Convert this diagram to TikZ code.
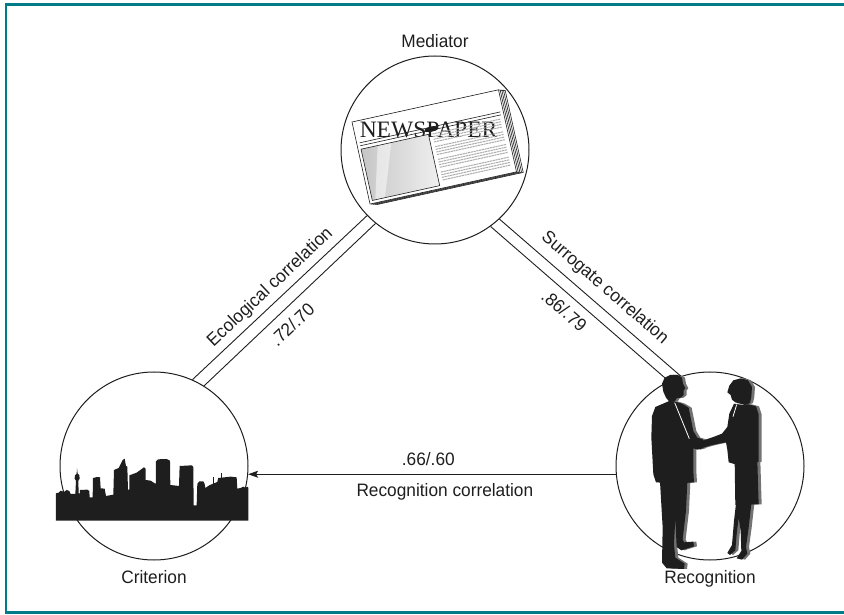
\documentclass[tikz,border=0pt]{standalone}
\usepackage{fontspec}
\setmainfont{Liberation Sans}[FakeStretch=0.96]
\newfontfamily\headfont{Liberation Serif}
\usetikzlibrary{positioning,arrows.meta}

\definecolor{frameteal}{RGB}{0,124,137}
\definecolor{ink}{RGB}{30,30,30}
\definecolor{figshadow}{RGB}{115,115,115}

\tikzset{
  disc/.style={circle, draw=ink, line width=1pt, minimum size=188pt, inner sep=0pt},
  caption/.style={text=ink, font=\fontsize{18}{20}\selectfont, inner sep=1pt},
  lbl/.style={text=ink, font=\fontsize{18}{20}\selectfont, inner sep=1pt},
  link/.style={draw=ink, line width=0.9pt},
  frameline/.style={draw=frameteal, line width=2.5pt},
  paper/.style={draw=ink, fill=white, line width=0.6pt},
  txtline/.style={draw=gray!65, line width=1pt, dash pattern=on 2.2pt off 0.6pt},
}

\begin{document}
\begin{tikzpicture}[x=1pt,y=1pt]
\useasboundingbox (0,0) rectangle (844,614);

%% frame
\draw[frameline] (844,609.5) -- (6,609.5) -- (6,1.5) -- (844,1.5);

%% circles
\node[disc] (med) at (435,464) {};    %% mediator
\node[disc] (crit) at (154,148) {};   %% criterion
\node[disc] (rec) at (710,148) {};    %% recognition

%% circle captions
\node[caption, above=7pt of med] (medcap) {Mediator};
\node[caption, below=9pt of crit] (critcap) {Criterion};
\node[caption, below=9pt of rec] (reccap) {Recognition};

%% newspaper
\begin{scope}[shift={(352,492)}, rotate=12.4]
  \foreach \k in {4,3,2,1}
    \draw[paper] (1.6*\k,-0.5*\k) rectangle ++(150,-84);
  \draw[paper] (0,0) rectangle (150,-84);
  \node[anchor=base west, inner sep=0pt, text=ink,
        font=\headfont\fontsize{23.5}{24}\selectfont] (title) at (4,-17) {NEWSPAPER};
  \draw[ink, line width=0.6pt] (3,-22) -- (147,-22);
  \draw[ink, line width=0.6pt] (3,-25) -- (147,-25);
  \fill[ink] (76,-24) ellipse (7 and 2.6);
  \shade[left color=gray!45, right color=gray!12] (3,-28.5) rectangle (72,-81);
  \fill[white, opacity=0.5] (20,-28.5) -- (34,-28.5) -- (16,-81) -- (6,-81) -- cycle;
  \draw[ink, line width=0.6pt] (3,-28.5) rectangle (72,-81);
  \foreach \p in {29,42,55,68}
    \foreach \i in {0,1,2,3}
      \draw[txtline] (76,-\p-2.7*\i) -- (146,-\p-2.7*\i);
\end{scope}

%% skyline
\begin{scope}[shift={(0,254)}, x=0.3333pt, y=-0.3333pt]
  \fill[ink] (168,482) -- (168,400) -- (176,398) -- (182,392) -- (192,396) -- (200,390)
    -- (208,393) -- (212,402) -- (226,402) -- (228,362) -- (224,356) -- (225,346)
    -- (230,341) -- (231,325) -- (233,341) -- (238,346) -- (239,356) -- (235,362)
    -- (236,400) -- (240,400) -- (240,390) -- (262,389) -- (268,393) -- (269,412)
    -- (278,412) -- (279,354) -- (292,351) -- (300,352) -- (302,385) -- (314,386)
    -- (318,408) -- (340,404) -- (342,330) -- (356,324) -- (368,300) -- (374,296)
    -- (378,318) -- (382,320) -- (384,390) -- (388,388) -- (388,346) -- (410,338)
    -- (432,322) -- (437,326) -- (437,360) -- (452,362) -- (464,370) -- (468,371)
    -- (468,304) -- (474,298) -- (500,297) -- (510,302) -- (511,375) -- (537,378)
    -- (539,318) -- (576,316) -- (580,322) -- (581,436) -- (590,436) -- (592,372)
    -- (598,364) -- (610,364) -- (614,372) -- (616,384) -- (628,376) -- (642,370)
    -- (652,366) -- (655,354) -- (692,350) -- (710,352) -- (712,386) -- (722,384)
    -- (730,380) -- (737,384) -- (741,380) -- (745,383) -- (745,482) -- cycle;
  \draw[ink, line width=0.4pt] (640,372) -- (640,352);
  \draw[ink, line width=0.4pt] (664,354) -- (664,340);
\end{scope}

%% handshake, grey copy first for the shadow
\begin{scope}[shift={(640,244)}, x=0.3333pt, y=-0.3333pt]
  \foreach \tone/\off in {figshadow/9,ink/0} {
    \begin{scope}[shift={(\off,3)}]
      %% man
      \fill[\tone] (70,62) -- (66,38) -- (74,20) -- (90,12) -- (112,12) -- (126,20) -- (129,38)
        -- (136,52) -- (131,58) -- (131,72) -- (122,80) -- (110,82) -- (104,92) -- (88,92)
        -- (78,80) -- cycle;
      \fill[\tone] (88,90) -- (106,92) -- (126,98) -- (146,110) -- (152,140) -- (160,180)
        -- (172,200) -- (186,204) -- (196,214) -- (188,232) -- (172,236) -- (160,232)
        -- (160,300) -- (162,334) -- (110,338) -- (48,334) -- (40,310) -- (34,200)
        -- (36,135) -- (46,108) -- cycle;
      \fill[\tone] (60,332) -- (142,332) -- (138,420) -- (128,505) -- (132,514) -- (160,512)
        -- (162,526) -- (124,538) -- (110,528) -- (106,440) -- (102,520) -- (106,560)
        -- (134,578) -- (132,594) -- (80,592) -- (66,575) -- (68,470) -- cycle;
      %% woman
      \fill[\tone] (262,64) -- (268,44) -- (280,28) -- (302,22) -- (324,28) -- (336,48)
        -- (334,78) -- (330,96) -- (316,102) -- (300,98) -- (286,94) -- (276,86)
        -- (272,72) -- cycle;
      \fill[\tone] (282,98) -- (300,102) -- (326,100) -- (348,106) -- (356,130) -- (356,272)
        -- (346,276) -- (286,280) -- (266,274) -- (262,236) -- (258,214) -- (236,218)
        -- (210,224) -- (190,230) -- (180,216) -- (196,206) -- (220,198) -- (246,188)
        -- (262,168) -- (268,128) -- cycle;
      \fill[\tone] (284,270) -- (352,268) -- (356,400) -- (286,402) -- cycle;
      \fill[\tone] (288,398) -- (334,398) -- (326,470) -- (318,528) -- (322,548) -- (306,566)
        -- (290,562) -- (304,540) -- (302,480) -- (296,440) -- (290,490) -- (286,538)
        -- (270,552) -- (262,546) -- (276,522) -- (282,450) -- cycle;
    \end{scope}
  }
  \draw[white, line width=0.8pt] (104,98) -- (148,206);   %% shirt
  \draw[white, line width=0.8pt] (290,104) -- (279,140);  %% collar
\end{scope}

%% connectors
\draw[link] (crit.66) -- node[lbl, sloped, above=4pt] (ecotxt) {Ecological correlation} (med.224);
\draw[link] (crit.58) -- node[lbl, sloped, below=8pt, pos=0.45] (ecoval) {.72/.70} (med.231);
\draw[link] (med.313) -- node[lbl, sloped, above=7pt, pos=0.52] (surtxt) {Surrogate correlation} (rec.108);
\draw[link] (med.306) -- node[lbl, sloped, below=7pt, pos=0.47] (surval) {.86/.79} (rec.116);
\draw[link, -{Stealth[length=10pt, width=7pt, inset=2pt]}] (rec.185)
  -- node[lbl, above=7pt, pos=0.51] (recval) {.66/.60}
     node[lbl, below=8pt, pos=0.465] (rectxt) {Recognition correlation} (crit.355);

\end{tikzpicture}
\end{document}
